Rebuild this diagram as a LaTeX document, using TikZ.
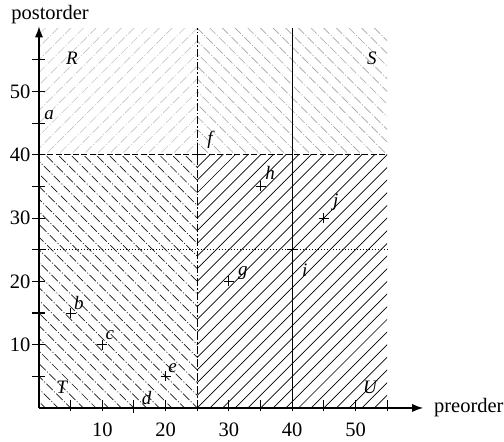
\documentclass[tikz,border=0pt]{standalone}
\usepackage{fontspec}
\setmainfont{Liberation Serif}
\usetikzlibrary{arrows.meta}
\begin{document}
\begin{tikzpicture}[x=6.33pt,y=6.33pt,
  lab/.style={font=\fontsize{19}{21}\selectfont\itshape, inner sep=0pt},
  txt/.style={font=\fontsize{20.5}{23}\selectfont, inner sep=0pt},
  ptmark/.style={line width=1pt},
  hatchR/.style={gray!45, line width=0.65pt, dash pattern=on 9pt off 2pt on 1pt off 2pt},
  hatchS/.style={gray!70, line width=0.65pt, dash pattern=on 9pt off 2pt on 1pt off 2pt},
  hatchT/.style={black!90, line width=0.7pt, dash pattern=on 9pt off 2pt on 1pt off 2pt},
  hatchU/.style={black, line width=0.7pt},
  axis/.style={line width=1.3pt},
  tickmark/.style={line width=1.1pt}
]
\useasboundingbox (-6.161,-5.371) rectangle (73.46,64.45);
% hatching
\begin{scope}
  \clip (0,40) rectangle (25,60);
  \foreach \c in {-70,-68,...,70} \draw[hatchR] (\c,-5) -- ++(70,70);
\end{scope}
\begin{scope}
  \clip (25,40) rectangle (55,60);
  \foreach \c in {-10,-8,...,140} \draw[hatchS] (\c,-5) -- ++(-70,70);
\end{scope}
\begin{scope}
  \clip (0,0) rectangle (25,40);
  \foreach \c in {-10,-8,...,140} \draw[hatchT] (\c,-5) -- ++(-70,70);
\end{scope}
\begin{scope}
  \clip (25,0) rectangle (55,40);
  \foreach \c in {-70,-68,...,70} \draw[hatchU] (\c,-5) -- ++(70,70);
\end{scope}
% region borders
\coordinate (o) at (0,0);
\coordinate (v25b) at (25,0); \coordinate (v25t) at (25,60);
\coordinate (v40b) at (40,0); \coordinate (v40t) at (40,60);
\coordinate (h40l) at (0,40); \coordinate (h40r) at (55,40);
\coordinate (h25l) at (0,25); \coordinate (h25r) at (55,25);
\draw[line width=1pt, dash pattern=on 8pt off 2pt on 1.5pt off 2pt] (v25b) -- (v25t);
\draw[line width=1.1pt] (v40b) -- (v40t);
\draw[line width=1.1pt, dash pattern=on 6pt off 2.5pt] (h40l) -- (h40r);
\draw[line width=1pt, dash pattern=on 1pt off 2pt] (h25l) -- (h25r);
% axes
\coordinate (xend) at (60.7,0);
\coordinate (yend) at (0,60.3);
\draw[axis, -{Latex[length=11pt,width=8pt]}] (o) -- (xend);
\draw[axis, -{Latex[length=11pt,width=8pt]}] (o) -- (yend);
\foreach \v in {5,10,...,55} {
  \draw[tickmark] (\v,-0.5) -- (\v,1.3);
  \draw[tickmark] (-1.1,\v) -- (1,\v);
}
\foreach \v in {10,20,...,50} {
  \node[txt] (xl\v) at (\v,-3.5) {\v};
  \node[txt, anchor=east] (yl\v) at (-1.35,\v) {\v};
}
\node[txt] (ylab) at (1.74,62.2) {postorder};
\node[txt] (xlab) at (67.9,0.1) {preorder};
% points
\foreach \n/\x/\y in {a/0/45, b/5/15, c/10/10, d/15/0, e/20/5, f/25/40, g/30/20, h/35/35, i/40/25, j/45/30} {
  \coordinate (\n) at (\x,\y);
  \draw[ptmark] ([xshift=-5pt]\n) -- ([xshift=5pt]\n);
  \draw[ptmark] ([yshift=-5pt]\n) -- ([yshift=5pt]\n);
}
\node[lab] (la) at (1.6,46.3) {a};
\node[lab] (lb) at (6.3,16.6) {b};
\node[lab] (lc) at (11.2,11.5) {c};
\node[lab] (ld) at (17,1.6) {d};
\node[lab] (le) at (21.1,6.3) {e};
\node[lab] (lf) at (27,42.3) {f};
\node[lab] (lg) at (32.2,21.3) {g};
\node[lab] (lh) at (36.5,37.1) {h};
\node[lab] (li) at (42,21.8) {i};
\node[lab] (lj) at (46.9,32.5) {j};
% region labels
\node[lab] (R) at (5.2,55.3) {R};
\node[lab] (S) at (52.6,55.3) {S};
\node[lab] (T) at (3.6,3.3) {T};
\node[lab] (U) at (52.3,3.3) {U};
\end{tikzpicture}
\end{document}
